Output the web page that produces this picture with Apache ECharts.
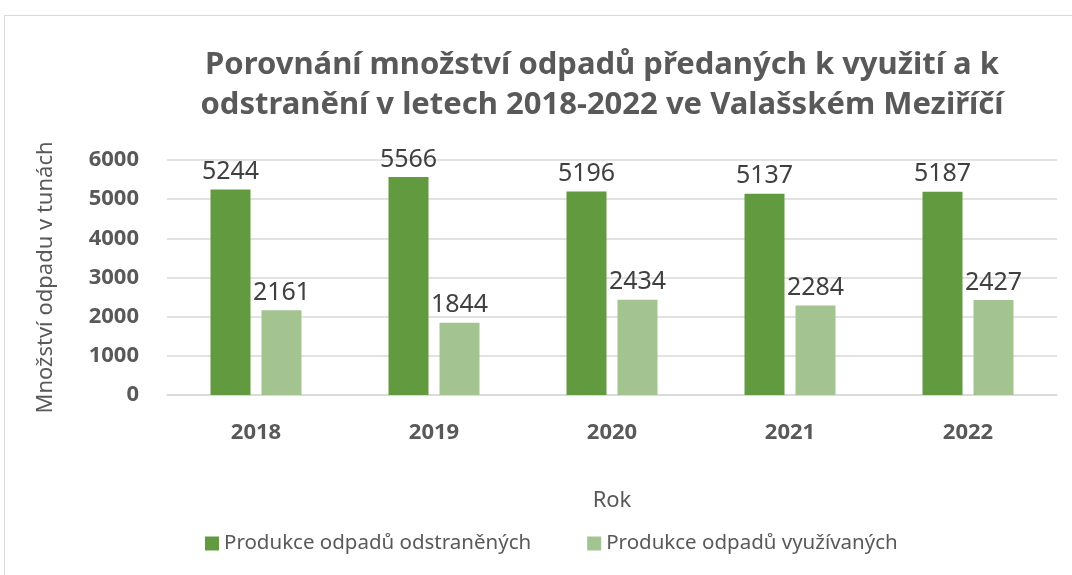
<!DOCTYPE html>
<html>
<head>
<meta charset="utf-8">
<script src="https://cdn.jsdelivr.net/npm/echarts@6/dist/echarts.min.js"></script>
<style>
	html, body { margin: 0; padding: 0; background: #fff; }
	#frame { position: absolute; left: 4px; top: 15px; width: 1200px; height: 700px; border: 1px solid #d9d9d9; }
	#chart { position: absolute; left: 0; top: 0; width: 1072px; height: 575px; }
</style>
</head>
<body>
<div id="frame"></div>
<div id="chart"></div>
<script>
	const roky = ['2018', '2019', '2020', '2021', '2022']
	const odstranene = [5244, 5566, 5196, 5137, 5187]
	const vyuzivane = [2161, 1844, 2434, 2284, 2427]

	const chart = echarts.init(document.getElementById('chart'))
	const font = 'Noto Sans'

	chart.setOption({
		title: {
			text: 'Porovnání množství odpadů předaných k využití a k\nodstranění v letech 2018-2022 ve Valašském Meziříčí',
			left: 597,
			top: 40,
			textAlign: 'center',
			textStyle: { fontFamily: font, fontSize: 31, fontWeight: 'bold', color: '#595959', lineHeight: 40 },
		},
		legend: {
			bottom: 16,
			left: 200,
			itemWidth: 14,
			itemHeight: 14,
			itemGap: 56,
			icon: 'rect',
			textStyle: { fontFamily: font, fontSize: 20.5, color: '#595959' },
			data: ['Produkce odpadů odstraněných', 'Produkce odpadů využívaných'],
		},
		grid: { left: 167, right: 15, top: 160, bottom: 180 },
		xAxis: {
			type: 'category',
			data: roky,
			name: 'Rok',
			nameLocation: 'middle',
			nameGap: 95,
			nameTextStyle: { fontFamily: font, fontSize: 22, color: '#595959' },
			axisLine: { lineStyle: { color: '#d9d9d9', width: 1.5 } },
			axisTick: { show: false },
			axisLabel: { fontFamily: font, fontSize: 22, fontWeight: 'bold', color: '#595959', margin: 27 },
		},
		yAxis: {
			type: 'value',
			min: 0,
			max: 6000,
			interval: 1000,
			name: 'Množství odpadu v tunách',
			nameLocation: 'middle',
			nameGap: 110,
			nameTextStyle: { fontFamily: font, fontSize: 22, color: '#595959' },
			splitLine: { lineStyle: { color: '#d9d9d9', width: 1.5 } },
			axisLabel: { fontFamily: font, fontSize: 22, fontWeight: 'bold', color: '#595959', margin: 28, formatter: v => String(v) },
		},
		series: [
			{
				name: 'Produkce odpadů odstraněných',
				type: 'bar',
				data: odstranene,
				barWidth: 40,
				barGap: '27.5%',
				itemStyle: { color: '#629a3f' },
				label: { show: true, position: 'top', distance: 5, fontFamily: font, fontSize: 25, color: '#404040' },
			},
			{
				name: 'Produkce odpadů využívaných',
				type: 'bar',
				data: vyuzivane,
				barWidth: 40,
				itemStyle: { color: '#a3c491' },
				label: { show: true, position: 'top', distance: 5, fontFamily: font, fontSize: 25, color: '#404040' },
			},
		],
	})
</script>
</body>
</html>
